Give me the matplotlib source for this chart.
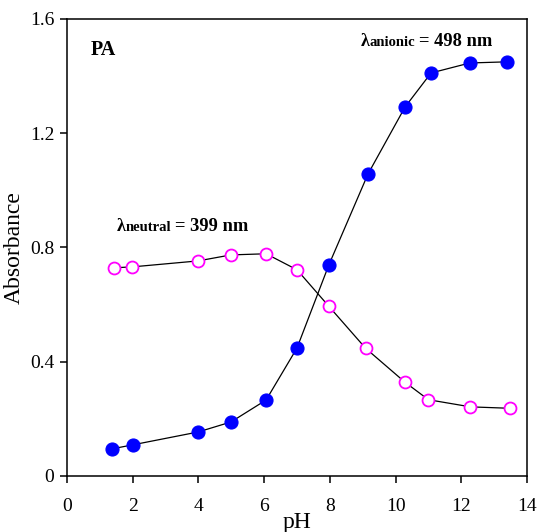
import matplotlib.pyplot as plt
from matplotlib.ticker import MultipleLocator

plt.rcParams['font.family'] = ['Liberation Serif', 'DejaVu Serif']

# pH titration of PA: absorbance at the two band maxima
ph_anionic = [1.37, 2.0, 3.99, 4.99, 6.06, 7.0, 7.97, 9.16, 10.29, 11.08, 12.26, 13.39]
abs_anionic = [0.095, 0.109, 0.154, 0.189, 0.266, 0.448, 0.739, 1.057, 1.292, 1.411, 1.446, 1.450]

ph_neutral = [1.43, 1.98, 3.99, 4.99, 6.06, 7.0, 7.97, 9.09, 10.28, 11.0, 12.28, 13.48]
abs_neutral = [0.729, 0.732, 0.753, 0.774, 0.778, 0.722, 0.594, 0.447, 0.329, 0.267, 0.242, 0.237]

y_ticks = [0, 0.4, 0.8, 1.2, 1.6]
y_ticklabels = ['0', '0.4', '0.8', '1.2', '1.6']

DPI = 100
fig = plt.figure(figsize=(5.39, 5.32), dpi=DPI)
ax = fig.add_axes([0.1243, 0.1053, 0.8534, 0.859])

ax.plot(ph_anionic, abs_anionic, color='black', linewidth=0.9,
        marker='o', markersize=9.4, markerfacecolor='#0000ff',
        markeredgecolor='#0000ff', markeredgewidth=0.8, zorder=3)
ax.plot(ph_neutral, abs_neutral, color='black', linewidth=0.9,
        marker='o', markersize=8.6, markerfacecolor='white',
        markeredgecolor='#ff00ff', markeredgewidth=1.3, zorder=3)

ax.set_xlim(0, 14)
ax.set_ylim(0, 1.6)
ax.xaxis.set_major_locator(MultipleLocator(2))
ax.set_yticks(y_ticks)
ax.set_yticklabels(y_ticklabels)

for s in ax.spines.values():
    s.set_linewidth(1.1)
ax.tick_params(direction='out', length=5, width=1.1, labelsize=14,
               top=False, right=False)
ax.tick_params(axis='x', pad=11)
ax.tick_params(axis='y', pad=4)

ax.set_xlabel('pH', fontsize=17, labelpad=-2)
ax.set_ylabel('Absorbance', fontsize=17, labelpad=4)

ax.text(0.72, 1.474, 'PA', fontsize=14.5, fontweight='bold', va='baseline')


def put(txt, x, y, offset, size):
    t = ax.annotate(txt, xy=(x, y), xytext=(offset, 0),
                    textcoords='offset points', fontsize=size,
                    fontweight='bold', va='baseline', ha='left')
    fig.canvas.draw()
    return t.get_window_extent().width * 72 / DPI


def lambda_label(x, y, sub, rest):
    # lambda, then a small subscript on the same baseline, then the value
    offset = put('λ', x, y, 0, 13)
    offset += put(sub, x, y, offset, 10.5) + 2.5
    put(rest, x, y, offset, 13.3)


lambda_label(1.52, 0.858, 'neutral', '= 399 nm')
lambda_label(8.95, 1.506, 'anionic', '= 498 nm')

fig.savefig('out.png', dpi=DPI)
